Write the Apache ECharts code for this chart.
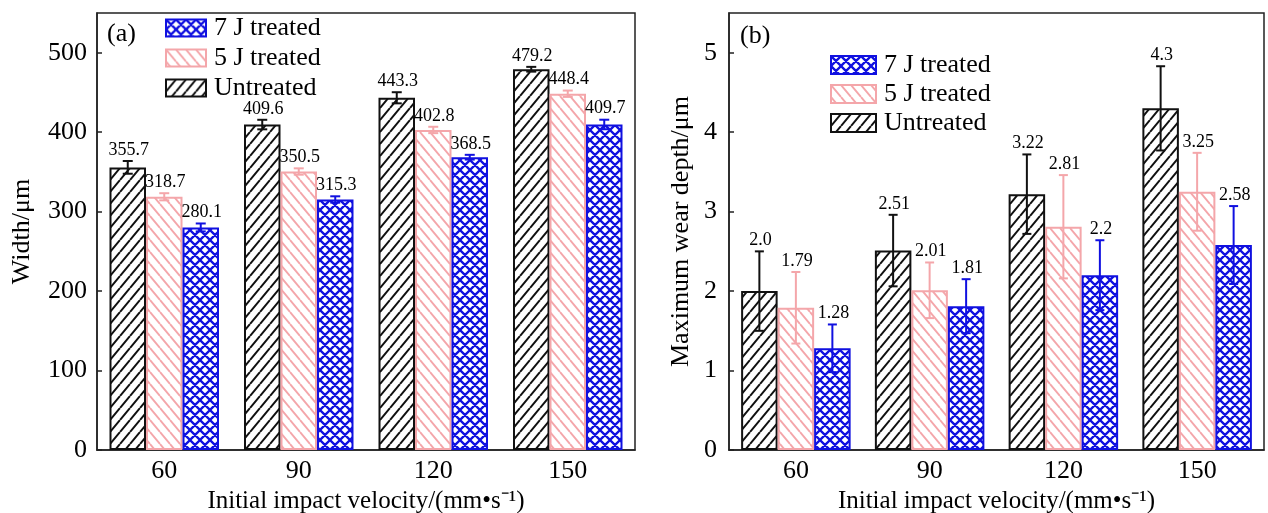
<!DOCTYPE html>
<html><head><meta charset="utf-8">
<script src="https://cdn.jsdelivr.net/npm/echarts@6/dist/echarts.min.js"></script>
<style>html,body{margin:0;padding:0;background:#fff}#c{width:1268px;height:513px}</style>
</head><body><div id="c"></div>
<script>
// ---------- data ----------
const categories = ['60', '90', '120', '150'];
const seriesNames = ['Untreated', '5 J treated', '7 J treated'];
const legendOrder = ['7 J treated', '5 J treated', 'Untreated'];

// panel (a): width / μm
const widthUntreated = [355.7, 409.6, 443.3, 479.2];
const width5J = [318.7, 350.5, 402.8, 448.4];
const width7J = [280.1, 315.3, 368.5, 409.7];
const widthErrUntreated = [8, 6, 7, 3];
const widthErr5J = [4.5, 4, 4, 4];
const widthErr7J = [5, 4, 3, 6];
const widthLabUntreated = ['355.7', '409.6', '443.3', '479.2'];
const widthLab5J = ['318.7', '350.5', '402.8', '448.4'];
const widthLab7J = ['280.1', '315.3', '368.5', '409.7'];

// panel (b): maximum wear depth / μm
const depthUntreated = [2.0, 2.51, 3.22, 4.3];
const depth5J = [1.79, 2.01, 2.81, 3.25];
const depth7J = [1.28, 1.81, 2.2, 2.58];
const depthErrUntreated = [0.5, 0.45, 0.5, 0.53];
const depthErr5J = [0.45, 0.35, 0.65, 0.49];
const depthErr7J = [0.3, 0.34, 0.44, 0.49];
const depthLabUntreated = ['2.0', '2.51', '3.22', '4.3'];
const depthLab5J = ['1.79', '2.01', '2.81', '3.25'];
const depthLab7J = ['1.28', '1.81', '2.2', '2.58'];

// ---------- styles ----------
const FONT = '"Liberation Serif", "Times New Roman", serif';
const BLACK = '#111111', PINK = '#F4A6AA', BLUE = '#1010E0';
const BAR_W = 36.5;

function hatch(color, w, h, lw, fwd, back) {
  const c = document.createElement('canvas');
  c.width = w; c.height = h;
  const g = c.getContext('2d');
  g.fillStyle = '#fff'; g.fillRect(0, 0, w, h);
  g.strokeStyle = color; g.lineWidth = lw;
  g.beginPath();
  for (let k = -1; k <= 1; k++) {
    if (fwd) { g.moveTo(k * w, h); g.lineTo(k * w + w, 0); }
    if (back) { g.moveTo(k * w, 0); g.lineTo(k * w + w, h); }
  }
  g.stroke();
  return { image: c, repeat: 'repeat' };
}
const patUntreated = hatch(BLACK, 10, 12, 2, true, false);
const pat5J = hatch(PINK, 10, 12, 1.9, false, true);
const pat7J = hatch(BLUE, 10, 10, 2.3, true, true);
const fills = [patUntreated, pat5J, pat7J];
const borders = [BLACK, PINK, BLUE];

function barSeries(name, idx, data, axis) {
  return {
    type: 'bar', name: name, xAxisIndex: axis, yAxisIndex: axis,
    data: data, barWidth: BAR_W, barGap: '0%',
    itemStyle: { color: fills[idx], borderColor: borders[idx], borderWidth: 2 },
    emphasis: { disabled: true }, z: 2
  };
}

function errSeries(idx, vals, errs, labs, axis, capW) {
  const data = vals.map((v, i) => [i, v, errs[i]]);
  return {
    type: 'custom', xAxisIndex: axis, yAxisIndex: axis, z: 5,
    data: data, encode: { x: 0, y: 1 }, silent: true,
    renderItem: function (params, api) {
      const ci = api.value(0), v = api.value(1), e = api.value(2);
      const lab = labs[ci];
      const off = (idx - 1) * BAR_W;
      const top = api.coord([ci, v + e]);
      const bot = api.coord([ci, v - e]);
      const x = top[0] + off;
      const st = { stroke: borders[idx], lineWidth: 2 };
      return {
        type: 'group', children: [
          { type: 'line', shape: { x1: x, y1: top[1], x2: x, y2: bot[1] }, style: st },
          { type: 'line', shape: { x1: x - capW / 2, y1: top[1], x2: x + capW / 2, y2: top[1] }, style: st },
          { type: 'line', shape: { x1: x - capW / 2, y1: bot[1], x2: x + capW / 2, y2: bot[1] }, style: st },
          { type: 'text', style: { text: lab, x: x + 1, y: top[1] - 11, align: 'center', verticalAlign: 'middle',
              fontFamily: FONT, fontSize: 18, fill: '#000' } }
        ]
      };
    }
  };
}

const axisText = { color: '#000', fontFamily: FONT, fontSize: 26 };
function xAxis(grid) {
  return {
    type: 'category', gridIndex: grid, data: categories,
    axisLine: { lineStyle: { color: '#222', width: 1.5 } },
    axisTick: { show: false },
    axisLabel: Object.assign({ margin: 8 }, axisText),
    name: 'Initial impact velocity/(mm\u2022s\u207B\u00B9)', nameLocation: 'middle', nameGap: 34,
    nameTextStyle: { color: '#000', fontFamily: FONT, fontSize: 25 }
  };
}
function yAxis(grid, max, interval, name, gap, margin) {
  return {
    type: 'value', gridIndex: grid, min: 0, max: max, interval: interval,
    splitLine: { show: false },
    axisLine: { show: true, lineStyle: { color: '#222', width: 1.5 } },
    axisTick: { show: true, inside: true, length: 5, lineStyle: { color: '#222', width: 1.5 } },
    axisLabel: Object.assign({ margin: margin, showMaxLabel: false }, axisText),
    name: name, nameLocation: 'middle', nameGap: gap, nameRotate: 90,
    nameTextStyle: { color: '#000', fontFamily: FONT, fontSize: 26 }
  };
}

const gridBase = { top: 13, height: 437, show: true, borderColor: '#222', borderWidth: 1.5,
  backgroundColor: 'transparent', containLabel: false, outerBoundsMode: 'none' };

const chart = echarts.init(document.getElementById('c'), null, { renderer: 'canvas' });
chart.setOption({
  animation: false,
  backgroundColor: '#fff',
  grid: [
    Object.assign({ left: 97, width: 538 }, gridBase),
    Object.assign({ left: 729, width: 535 }, gridBase)
  ],
  xAxis: [xAxis(0), xAxis(1)],
  yAxis: [
    yAxis(0, 550, 100, 'Width/\u03BCm', 62, 10),
    yAxis(1, 5.5, 1, 'Maximum wear depth/\u03BCm', 35, 12)
  ],
  legend: [
    { data: legendOrder, orient: 'vertical', left: 160, top: 10, itemWidth: 40, itemHeight: 17, itemGap: 4,
      icon: 'rect', selectedMode: false,
      textStyle: { color: '#000', fontFamily: FONT, fontSize: 26, lineHeight: 26, padding: [0, 0, 0, 3] } },
    { data: legendOrder, orient: 'vertical', left: 825, top: 47, itemWidth: 45, itemHeight: 18, itemGap: 3,
      icon: 'rect', selectedMode: false,
      textStyle: { color: '#000', fontFamily: FONT, fontSize: 26, lineHeight: 26, padding: [0, 0, 0, 3] } }
  ],
  graphic: [
    { type: 'text', left: 107, top: 21, style: { text: '(a)', fontFamily: FONT, fontSize: 26, fill: '#000' } },
    { type: 'text', left: 740, top: 23, style: { text: '(b)', fontFamily: FONT, fontSize: 26, fill: '#000' } }
  ],
  series: [
    barSeries(seriesNames[0], 0, widthUntreated, 0),
    barSeries(seriesNames[1], 1, width5J, 0),
    barSeries(seriesNames[2], 2, width7J, 0),
    barSeries(seriesNames[0], 0, depthUntreated, 1),
    barSeries(seriesNames[1], 1, depth5J, 1),
    barSeries(seriesNames[2], 2, depth7J, 1),
    errSeries(0, widthUntreated, widthErrUntreated, widthLabUntreated, 0, 10),
    errSeries(1, width5J, widthErr5J, widthLab5J, 0, 10),
    errSeries(2, width7J, widthErr7J, widthLab7J, 0, 10),
    errSeries(0, depthUntreated, depthErrUntreated, depthLabUntreated, 1, 9),
    errSeries(1, depth5J, depthErr5J, depthLab5J, 1, 9),
    errSeries(2, depth7J, depthErr7J, depthLab7J, 1, 9)
  ]
});
</script>
</body></html>
